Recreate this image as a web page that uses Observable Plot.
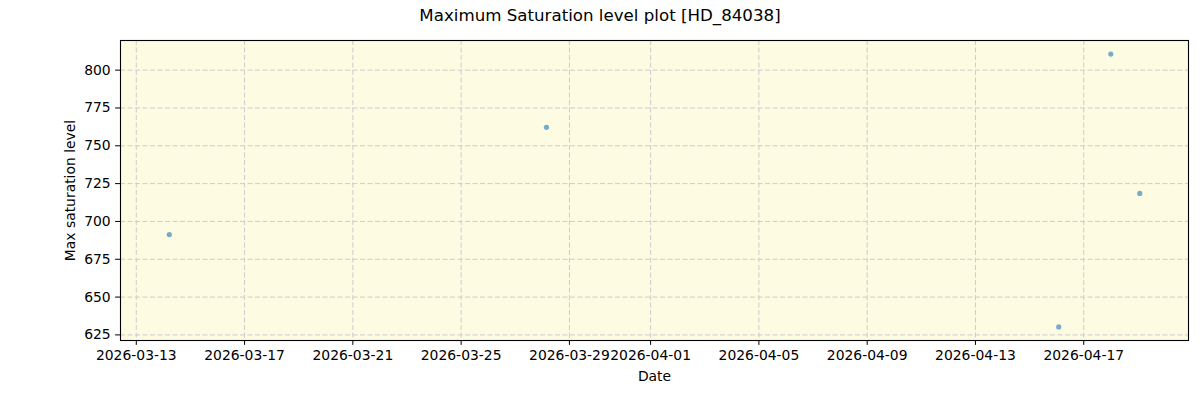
<!DOCTYPE html>
<html><head><meta charset="utf-8">
<script src="https://cdn.jsdelivr.net/npm/d3@7"></script>
<script src="https://cdn.jsdelivr.net/npm/@observablehq/plot@0.6"></script>
<style>
body{margin:0;background:#fff;font-family:"DejaVu Sans",sans-serif;}
#title{height:32px;line-height:32px;text-align:center;font-size:16.67px;color:#000;}
</style></head><body>
<div id="title">Maximum Saturation level plot [HD_84038]</div>
<div id="chart"></div>
<script>
const dates = ["2026-03-14T05:16Z","2026-03-28T03:40Z","2026-04-16T01:50Z","2026-04-18T00:00Z","2026-04-19T01:40Z"];
const values = [691.3, 762.2, 630.3, 810.6, 718.5];
const xTickLabels = ["2026-03-13","2026-03-17","2026-03-21","2026-03-25","2026-03-29","2026-04-01","2026-04-05","2026-04-09","2026-04-13","2026-04-17"];
const yTicks = [625,650,675,700,725,750,775,800];
const xDomain = ["2026-03-12T10:00Z","2026-04-20T20:53Z"];
const yDomain = [621.3, 819.6];

const data = dates.map((d,i)=>({date:new Date(d), value:values[i]}));
const xTicks = xTickLabels.map(s=>new Date(s+"T00:00Z"));
const fmt = d3.utcFormat("%Y-%m-%d");

const chart = Plot.plot({
  width:1200, height:368,
  marginTop:8, marginBottom:60, marginLeft:120, marginRight:12,
  style:{fontFamily:"DejaVu Sans, sans-serif", fontSize:"13.9px", color:"#000", background:"#fff"},
  x:{type:"utc", domain:xDomain.map(s=>new Date(s))},
  y:{domain:yDomain},
  marks:[
    Plot.frame({fill:"#fdfbe2", stroke:null}),
    Plot.gridX(xTicks,{stroke:"#cccccc", strokeOpacity:1, strokeWidth:1, strokeDasharray:"5,2.5"}),
    Plot.gridY(yTicks,{stroke:"#cccccc", strokeOpacity:1, strokeWidth:1, strokeDasharray:"5,2.5"}),
    Plot.dot(data,{x:"date", y:"value", r:2.6, fill:"#1f77b4", fillOpacity:0.6, stroke:null}),
    Plot.frame({stroke:"#000", strokeWidth:1.1}),
    Plot.axisX(xTicks,{tickFormat:fmt, tickSize:4.9, tickPadding:4.9, label:"Date", labelAnchor:"center", labelArrow:"none", labelOffset:40, fontSize:"13.9px"}),
    Plot.axisY(yTicks,{tickSize:4.9, tickPadding:4.9, label:"Max saturation level", labelAnchor:"center", labelArrow:"none", labelOffset:55, fontSize:"13.9px"})
  ]
});
document.getElementById("chart").appendChild(chart);
</script>
</body></html>
